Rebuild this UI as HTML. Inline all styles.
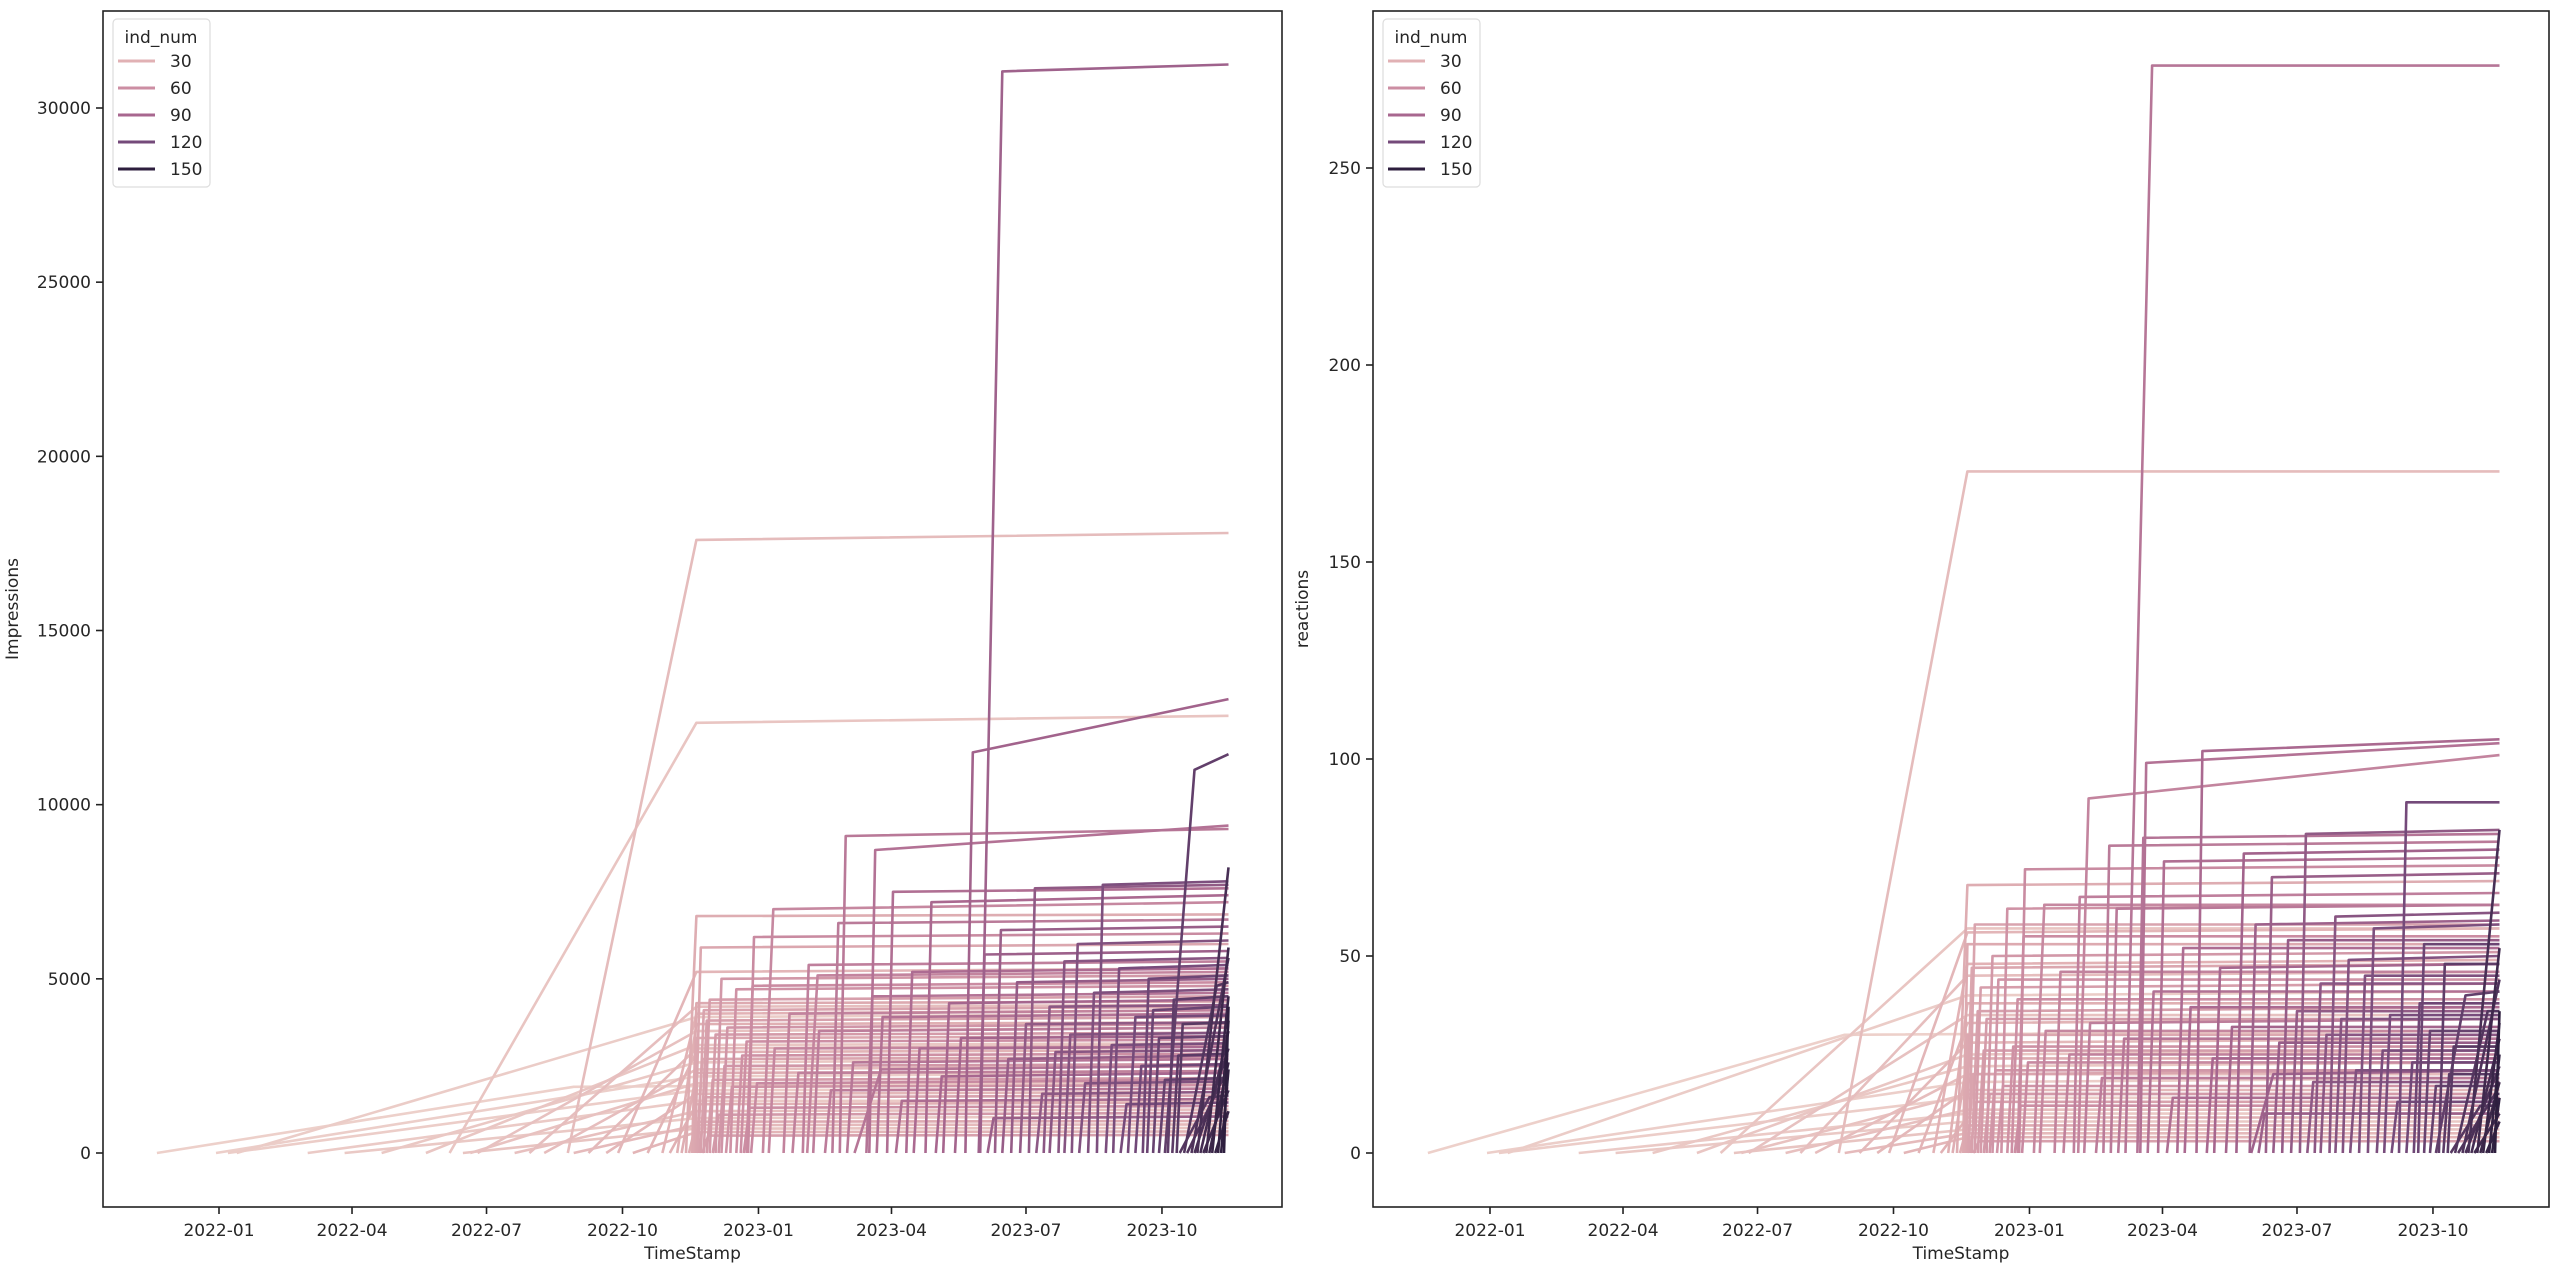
<!DOCTYPE html>
<html><head><meta charset="utf-8"><style>
html,body{margin:0;padding:0;background:#fff;}
svg{display:block;font-family:"DejaVu Sans","Liberation Sans",sans-serif;}
</style></head><body>
<svg id="fig" width="2560" height="1274" xmlns="http://www.w3.org/2000/svg">
<rect width="2560" height="1274" fill="#fff"/>
</svg>
<script>
// Data: day offset from 2022-01-01
const indNum =    [1,2,3,4,5,6,7,8,9,10,11,12,13,14,15,16,17,18,19,20,21,22,23,24,25,26,27,28,29,30,31,32,33,34,35,36,37,38,39,40,41,42,43,44,45,46,47,48,49,50,51,52,53,54,55,56,57,58,59,60,61,62,63,64,65,66,67,68,69,70,71,72,73,74,75,76,77,78,79,80,81,82,83,84,85,86,87,88,89,90,91,92,93,94,95,96,97,98,99,100,101,102,103,104,105,106,107,108,109,110,111,112,113,114,115,116,117,118,119,120];
const startDay =  [-42,-2,6,12,60,85,110,140,156,165,170,175,200,210,220,236,240,250,262,270,280,290,300,305,310,313,316,318,320,321,322,323,324,325,326,327,328,330,332,334,336,338,340,343,346,350,353,355,357,358,360,368,372,398,382,388,395,402,410,415,420,425,430,438,440,445,452,458,465,470,478,485,490,498,505,515,514,520,525,530,536,542,548,553,558,562,568,572,577,582,588,594,600,605,610,615,620,625,628,632,636,640,642,645,648,650,653,655,658,660,662,664,666,668,670,672,674,676,678,680];
const firstDay =  [240,323,323,323,323,323,323,323,323,323,323,323,323,323,323,323,323,323,323,323,323,323,323,323,323,323,323,323,323,323,326,327,328,329,330,331,332,334,336,338,340,342,344,347,350,354,357,359,361,362,364,375,376,405,386,392,399,406,414,419,424,429,448,442,444,449,456,462,469,474,482,489,494,502,510,530,518,524,529,534,540,546,552,557,562,566,572,576,581,586,592,598,604,609,614,620,624,629,632,636,640,660,646,649,652,670,675,680,683,683,683,683,683,683,683,683,683,683,683,683];
const impFirst =  [1900,2200,1800,3900,1500,1000,2600,3100,12350,700,2000,3500,1200,4200,2400,17600,800,3000,1700,5200,600,2900,4000,1400,3700,2300,6800,900,4300,3300,5900,2700,4100,1600,3800,500,4400,2100,3400,1100,5000,2500,3600,1900,4700,2800,3200,1300,4800,6200,2000,7000,3000,5100,4000,2300,5400,3500,1800,6600,9100,2600,2400,4500,8700,3900,7500,1500,5200,3000,7200,2200,4300,3300,11500,31050,5700,1000,6400,2700,4900,3700,7600,1700,4200,2900,5500,3400,6000,2000,4600,7700,3100,5300,1400,3900,2500,5000,4100,3300,2100,11000,4400,2800,3700,1600,4800,2200,5600,3000,8200,3500,1800,5900,2600,4500,1200,3800,2400,4200];
const impFinal =  [2000,2300,1850,4000,1500,1050,2700,3150,12550,720,2050,3600,1250,4250,2500,17800,820,3100,1750,5300,620,2950,4100,1450,3750,2350,6850,920,4350,3350,6000,2750,4200,1650,3900,520,4500,2150,3450,1150,5100,2550,3700,1950,4800,2850,3250,1350,4900,6300,2100,7200,3050,5200,4100,2350,5500,3600,1850,6700,9300,2700,2500,4600,9400,4000,7600,1550,5300,3050,7400,2300,4400,3350,13030,31250,5800,1050,6500,2800,5000,3750,7700,1750,4250,2950,5600,3450,6100,2050,4700,7800,3150,5400,1450,3950,2550,5100,4200,3350,2150,11450,4500,2850,3750,1650,4900,2250,5600,3000,8200,3500,1800,5900,2600,4500,1200,3800,2400,4200];
const reactFirst= [30,18,14,40,10,8,22,25,57,6,15,35,11,45,20,173,5,28,16,56,4,33,48,9,38,24,68,7,53,30,47,20,58,13,36,3,42,26,34,15,50,21,44,17,62,27,39,12,55,72,23,63,31,90,46,25,65,33,19,78,62,29,276,80,99,41,74,14,52,37,102,24,47,32,76,20,58,10,70,28,54,36,81,18,43,30,60,34,49,21,45,57,26,35,13,89,23,38,53,31,17,40,48,20,27,12,36,15,44,22,82,29,10,52,18,33,8,25,14,36];
const reactFinal= [31,19,14,41,10,8,23,26,57,6,15,35,11,46,20,173,5,29,16,57,4,34,49,9,38,24,69,7,53,30,48,21,58,13,37,3,43,26,34,15,51,21,44,17,63,27,39,12,55,73,23,63,31,101,46,25,66,34,19,79,63,29,276,81,104,41,75,14,52,37,105,24,48,32,77,21,59,10,71,28,54,36,82,18,43,30,61,34,50,21,45,58,26,35,13,89,23,38,53,31,17,41,48,20,27,12,36,15,44,22,82,29,10,52,18,33,8,25,14,36];
const endDay = 683;
const xTickLabels = ["2022-01","2022-04","2022-07","2022-10","2023-01","2023-04","2023-07","2023-10"];
const xTickDays = [0,90,181,273,365,455,546,638];
const impTicks = [0,5000,10000,15000,20000,25000,30000];
const reactTicks = [0,50,100,150,200,250];
const legendVals = [30,60,90,120,150];

const NS="http://www.w3.org/2000/svg";
const svg=document.getElementById('fig');
function el(tag,attrs,parent){const e=document.createElementNS(NS,tag);for(const k in attrs)e.setAttribute(k,attrs[k]);(parent||svg).appendChild(e);return e;}
const stops=[[0,[237,209,203]],[0.2,[225,177,180]],[0.4,[204,142,163]],[0.6,[168,103,143]],[0.8,[116,74,122]],[1,[45,30,62]]];
function color(v){let t=Math.max(0,Math.min(1,v/150));for(let i=1;i<stops.length;i++){if(t<=stops[i][0]){const a=stops[i-1],b=stops[i];const f=(t-a[0])/(b[0]-a[0]);const c=a[1].map((x,j)=>Math.round(x+(b[1][j]-x)*f));return `rgb(${c[0]},${c[1]},${c[2]})`;}}return 'rgb(45,30,62)';}

function panel(cfg){
  const {left,right,top,bottom,x0,y0,yScale,ticks,first,final,ylabel,ylabelX,name}=cfg;
  const g=el('g',{});  
  const xs=d=>x0+d*1.478; const ys=v=>y0-v*yScale;
  const cid='clip-'+name;
  const cp=el('clipPath',{id:cid},g); el('rect',{x:left,y:top,width:right-left,height:bottom-top},cp);
  const lg=el('g',{'clip-path':`url(#${cid})`},g);
   
  for(let i=0;i<indNum.length;i++){
    const pts=[[startDay[i],0],[firstDay[i],first[i]],[endDay,final[i]]];
    const p=el('polyline',{points:pts.map(q=>xs(q[0]).toFixed(1)+','+ys(q[1]).toFixed(1)).join(' '),fill:'none',stroke:color(indNum[i]*1.25),'stroke-width':2.6,'stroke-linejoin':'round'},lg);
    
    
  }
  const fr=el('rect',{x:left,y:top,width:right-left,height:bottom-top,fill:'none',stroke:'#222','stroke-width':1.6},g);
   
  xTickDays.forEach((d,k)=>{const x=xs(d);el('line',{x1:x,y1:bottom,x2:x,y2:bottom+7,stroke:'#222','stroke-width':1.6},g);
    const t=el('text',{x:x,y:bottom+29,'font-size':17,'text-anchor':'middle',fill:'#262626'},g);t.textContent=xTickLabels[k];
     });
  ticks.forEach(v=>{const y=ys(v);el('line',{x1:left-7,y1:y,x2:left,y2:y,stroke:'#222','stroke-width':1.6},g);
    const t=el('text',{x:left-12,y:y+6,'font-size':17,'text-anchor':'end',fill:'#262626'},g);t.textContent=v;
     });
  const xl=el('text',{x:(left+right)/2,y:1259,'font-size':17,'text-anchor':'middle',fill:'#262626'},g);xl.textContent='TimeStamp';
   
  const yl=el('text',{x:ylabelX,y:(top+bottom)/2,'font-size':17,'text-anchor':'middle',fill:'#262626',transform:`rotate(-90 ${ylabelX} ${(top+bottom)/2})`},g);yl.textContent=ylabel;
   
  const L=el('g',{},g);  
  el('rect',{x:left+10,y:19,width:97,height:168,rx:4,fill:'#fff','fill-opacity':0.85,stroke:'#ddd','stroke-width':1.2},L);
  const lt=el('text',{x:left+58,y:43,'font-size':17,'text-anchor':'middle',fill:'#262626'},L);lt.textContent='ind_num';
   
  legendVals.forEach((v,k)=>{const y=61+k*27;
    const ln=el('line',{x1:left+15,y1:y,x2:left+52,y2:y,stroke:color(v),'stroke-width':3},L);
     
    const t=el('text',{x:left+67,y:y+6,'font-size':17,fill:'#262626'},L);t.textContent=v;
     });
}
panel({name:'impressions',left:103,right:1282,top:11,bottom:1207,x0:219,y0:1153,yScale:(1153-108)/30000,ticks:impTicks,first:impFirst,final:impFinal,ylabel:'Impressions',ylabelX:18});
panel({name:'reactions',left:1373,right:2549,top:11,bottom:1207,x0:1490,y0:1153,yScale:(1153-168)/250,ticks:reactTicks,first:reactFirst,final:reactFinal,ylabel:'reactions',ylabelX:1308});
</script>
</body></html>
